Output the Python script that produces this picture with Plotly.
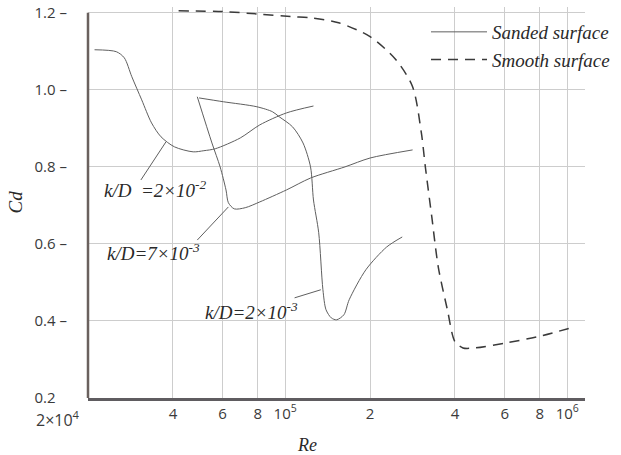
import numpy as np
import plotly.graph_objects as go

# ---------------- data (Re, Cd) ----------------
# Sanded surface, k/D = 2e-2
re_kd_2e2 = [2.11e4, 2.52e4, 2.69e4, 2.86e4, 3.10e4, 3.36e4, 3.63e4, 4.05e4, 4.72e4,
             5.15e4, 5.65e4, 6.93e4, 8.13e4, 1.01e5, 1.26e5]
cd_kd_2e2 = [1.104, 1.099, 1.083, 1.034, 0.974, 0.914, 0.878, 0.852, 0.839,
             0.842, 0.847, 0.875, 0.909, 0.940, 0.958]

# Sanded surface, k/D = 7e-3
re_kd_7e3 = [4.88e4, 5.50e4, 5.88e4, 6.17e4, 6.29e4, 6.60e4, 7.22e4, 8.13e4, 1.01e5,
             1.23e5, 1.63e5, 2.00e5, 2.83e5]
cd_kd_7e3 = [0.982, 0.862, 0.800, 0.740, 0.707, 0.691, 0.694, 0.709, 0.740,
             0.771, 0.800, 0.823, 0.844]

# Sanded surface, k/D = 2e-3
re_kd_2e3 = [4.95e4, 6.04e4, 7.94e4, 9.02e4, 9.53e4, 1.062e5, 1.157e5, 1.23e5, 1.26e5,
             1.315e5, 1.361e5, 1.396e5, 1.457e5, 1.521e5, 1.615e5, 1.686e5, 1.933e5,
             2.29e5, 2.60e5]
cd_kd_2e3 = [0.979, 0.969, 0.956, 0.943, 0.930, 0.904, 0.862, 0.800, 0.714,
             0.629, 0.481, 0.429, 0.408, 0.403, 0.416, 0.455, 0.533,
             0.592, 0.618]

# Smooth surface
re_smooth = [4.19e4, 6.04e4, 7.94e4, 1.062e5, 1.23e5, 1.547e5, 2.00e5, 2.47e5, 2.83e5,
             3.04e5, 3.14e5, 3.31e5, 3.49e5, 3.76e5, 4.00e5, 4.27e5, 4.70e5, 6.06e5,
             7.84e5, 1.067e6]
cd_smooth = [1.205, 1.203, 1.197, 1.190, 1.187, 1.174, 1.138, 1.078, 1.008,
             0.888, 0.800, 0.670, 0.540, 0.429, 0.346, 0.330, 0.330, 0.343,
             0.359, 0.385]

# curve labels and leader lines
label_texts = ["<i>k/D  =2×10<sup>-2</sup></i>", "<i>k/D=7×10<sup>-3</sup></i>",
               "<i>k/D=2×10<sup>-3</sup></i>"]
label_re = [2.25e4, 2.29e4, 5.12e4]
label_cd = [0.743, 0.579, 0.426]
leader_re = [[3.08e4, 3.78e4], [4.88e4, 6.29e4], [1.08e5, 1.338e5]]
leader_cd = [[0.766, 0.865], [0.610, 0.696], [0.460, 0.481]]

# axis ticks
x_tickvals = [4e4, 6e4, 8e4, 1e5, 2e5, 4e5, 6e5, 8e5, 1e6]
x_ticktext = ["4", "6", "8", "10<sup>5</sup>", "2", "4", "6", "8", "10<sup>6</sup>"]
y_tickvals = [0.2, 0.4, 0.6, 0.8, 1.0, 1.2]
y_ticktext = ["0.2 <span style='color:rgba(0,0,0,0)'>–</span>", "0.4 –", "0.6 –",
              "0.8 –", "1.0 –", "1.2 –"]
x_min, x_max = 2e4, 1.156e6
y_min, y_max = 0.2, 1.215

# ---------------- figure ----------------
SERIF = "Liberation Serif, Times New Roman, serif"
SANS = "Open Sans, Noto Sans, sans-serif"
solid_color = "#5f5f5f"
dash_color = "#3a3a3a"

fig = go.Figure()

for i, (xs, ys) in enumerate([(re_kd_2e2, cd_kd_2e2), (re_kd_7e3, cd_kd_7e3),
                              (re_kd_2e3, cd_kd_2e3)]):
    fig.add_trace(go.Scatter(
        x=xs, y=ys, mode="lines", name="<i>Sanded surface</i>",
        legendgroup="sanded", showlegend=(i == 0),
        line=dict(color=solid_color, width=1, shape="spline", smoothing=0.8),
        hoverinfo="skip"))

fig.add_trace(go.Scatter(
    x=re_smooth, y=cd_smooth, mode="lines", name="<i>Smooth surface</i>",
    line=dict(color=dash_color, width=1.5, dash="10px,7px", shape="spline", smoothing=0.8),
    hoverinfo="skip"))

for lx, ly in zip(leader_re, leader_cd):
    fig.add_trace(go.Scatter(x=lx, y=ly, mode="lines", showlegend=False,
                             line=dict(color=solid_color, width=1), hoverinfo="skip"))

for t, xr, yc in zip(label_texts, label_re, label_cd):
    fig.add_annotation(x=np.log10(xr), y=yc, xref="x", yref="y", text=t,
                       showarrow=False, xanchor="left", yanchor="middle",
                       font=dict(family=SERIF, size=19, color="#2a2a2a"))

# y-axis line from 0.2 to 1.2
fig.add_shape(type="line", xref="paper", yref="y", x0=0, x1=0, y0=0.2, y1=1.2,
              line=dict(color="#6a615e", width=2.5), layer="above")

# corner label and axis titles
fig.add_annotation(xref="paper", yref="paper", x=0, y=0, xshift=-6, yshift=-7,
                   text="2×10<sup>4</sup>", showarrow=False, xanchor="right", yanchor="top",
                   font=dict(family=SANS, size=16, color="#3a3a3a"))
fig.add_annotation(xref="paper", yref="paper", x=0, y=0.5, xshift=-73, yshift=0,
                   text="<i>Cd</i>", showarrow=False, textangle=-90,
                   xanchor="center", yanchor="middle",
                   font=dict(family=SERIF, size=19, color="#2a2a2a"))
fig.add_annotation(xref="paper", yref="paper", x=(307 - 88) / 497, y=0, yshift=-47,
                   text="<i>Re</i>", showarrow=False, xanchor="center", yanchor="middle",
                   font=dict(family=SERIF, size=18, color="#2a2a2a"))

fig.update_layout(
    width=621, height=455,
    margin=dict(l=88, r=36, t=7, b=57, autoexpand=False),
    paper_bgcolor="white", plot_bgcolor="white",
    showlegend=True,
    legend=dict(x=(426 - 88) / 497, y=1 - 6 / 391, xanchor="left", yanchor="top",
                bgcolor="rgba(0,0,0,0)", borderwidth=0, itemwidth=56,
                font=dict(family=SERIF, size=19, color="#2a2a2a"),
                tracegroupgap=0),
    xaxis=dict(type="log", range=[np.log10(x_min), np.log10(x_max)],
               tickvals=x_tickvals, ticktext=x_ticktext, ticks="",
               showgrid=True, gridcolor="#cdcdcd", gridwidth=1,
               showline=True, linecolor="#5f5c60", linewidth=2.5,
               zeroline=False, tickfont=dict(family=SANS, size=15, color="#3a3a3a")),
    yaxis=dict(range=[y_min, y_max], tickvals=y_tickvals, ticktext=y_ticktext, ticks="",
               showgrid=True, gridcolor="#cdcdcd", gridwidth=1,
               showline=False, zeroline=False, ticklabelstandoff=20,
               tickfont=dict(family=SANS, size=15, color="#3a3a3a")),
)

fig.write_html(
    "out.html",
    config={"displayModeBar": False},
    post_script="document.body.style.margin='0';document.body.style.overflow='hidden';",
)
